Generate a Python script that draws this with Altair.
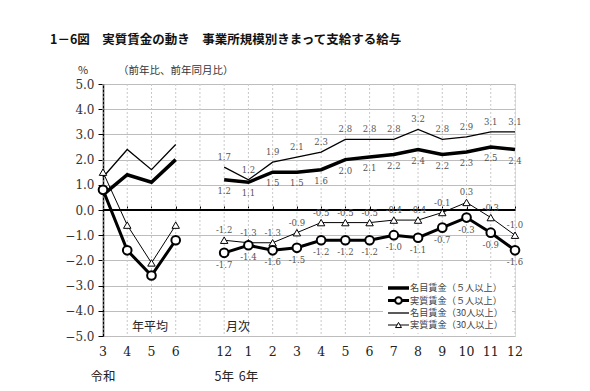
import altair as alt
import pandas as pd

# ---- data ----
x_labels = ['3', '4', '5', '6', '', '12', '1', '2', '3', '4', '5', '6', '7', '8', '9', '10', '11', '12']
annual_pos = [0, 1, 2, 3]
monthly_pos = [5, 6, 7, 8, 9, 10, 11, 12, 13, 14, 15, 16, 17]

nominal5_annual = [0.6, 1.4, 1.1, 2.0]
real5_annual = [0.8, -1.6, -2.6, -1.2]
nominal30_annual = [1.3, 2.4, 1.6, 2.6]
real30_annual = [1.5, -0.6, -2.1, -0.6]

nominal5_monthly = [1.2, 1.1, 1.5, 1.5, 1.6, 2.0, 2.1, 2.2, 2.4, 2.2, 2.3, 2.5, 2.4]
real5_monthly = [-1.7, -1.4, -1.6, -1.5, -1.2, -1.2, -1.2, -1.0, -1.1, -0.7, -0.3, -0.9, -1.6]
nominal30_monthly = [1.7, 1.2, 1.9, 2.1, 2.3, 2.8, 2.8, 2.8, 3.2, 2.8, 2.9, 3.1, 3.1]
real30_monthly = [-1.2, -1.3, -1.3, -0.9, -0.5, -0.5, -0.5, -0.4, -0.4, -0.1, 0.3, -0.3, -1.0]

series_names = ['名目賃金（５人以上）', '実質賃金（５人以上）', '名目賃金（30人以上）', '実質賃金（30人以上）']
annual_vals = [nominal5_annual, real5_annual, nominal30_annual, real30_annual]
monthly_vals = [nominal5_monthly, real5_monthly, nominal30_monthly, real30_monthly]

rows = []
for name, av, mv in zip(series_names, annual_vals, monthly_vals):
    for p, v in zip(annual_pos, av):
        rows.append({'pos': p, 'value': v, 'series': name, 'seg': 'annual'})
    for p, v in zip(monthly_pos, mv):
        rows.append({'pos': p, 'value': v, 'series': name, 'seg': 'monthly'})
df = pd.DataFrame(rows)
df['label'] = df['value'].map(lambda v: f"{v:.1f}")

grid_df = pd.DataFrame({'pos': list(range(18))})
xlab_df = pd.DataFrame({'pos': [i for i, l in enumerate(x_labels) if l], 'text': [l for l in x_labels if l]})
zero_df = pd.DataFrame({'v': [0]})

W, H = 412, 252
xs = alt.Scale(domain=[0, 17], nice=False, zero=False)
ys = alt.Scale(domain=[-5, 5], nice=False)
NUMFONT = 'DejaVu Serif'
JPFONT = 'Noto Sans CJK JP'

x_axis = alt.Axis(orient='top', offset=-126, values=list(range(18)),
                  labels=False, grid=False, domain=False, ticks=True,
                  tickSize=4, tickColor='black', title=None)
y_axis = alt.Axis(values=list(range(-5, 6)), format='.1f', grid=True, tickCount=11,
                  gridColor='#bdbdbd', domainColor='black', domainWidth=1.5,
                  tickColor='black', tickSize=5, labelFont=NUMFONT,
                  labelFontSize=12, labelColor='#333', labelPadding=4,
                  labelOverlap=False, labelBound=False, labelFlush=False,
                  title=None)

base = alt.Chart(df)

def sel(name):
    return base.transform_filter(alt.datum.series == name)

X = alt.X('pos:Q', scale=xs, axis=x_axis)
Y = alt.Y('value:Q', scale=ys, axis=y_axis)

vgrid = alt.Chart(grid_df).mark_rule(color='#c8c8c8', strokeDash=[2, 2], strokeWidth=1).encode(
    x=alt.X('pos:Q', scale=xs, axis=x_axis))
zero = alt.Chart(zero_df).mark_rule(color='black', strokeWidth=2).encode(
    y=alt.Y('v:Q', scale=ys, axis=y_axis))

l_nom5 = sel(series_names[0]).mark_line(color='black', strokeWidth=3.5).encode(x=X, y=Y, detail='seg:N')
l_real5 = sel(series_names[1]).mark_line(color='black', strokeWidth=3).encode(x=X, y=Y, detail='seg:N')
l_nom30 = sel(series_names[2]).mark_line(color='black', strokeWidth=1.3).encode(x=X, y=Y, detail='seg:N')
l_real30 = sel(series_names[3]).mark_line(color='black', strokeWidth=1).encode(x=X, y=Y, detail='seg:N')

p_real5 = sel(series_names[1]).mark_point(shape='circle', filled=True, fill='white', stroke='black',
                                          strokeWidth=2, size=75, opacity=1).encode(x=X, y=Y)
p_real30 = sel(series_names[3]).mark_point(shape='triangle-up', filled=True, fill='white', stroke='black',
                                           strokeWidth=1, size=55, opacity=1).encode(x=X, y=Y)

def labels(name, dy):
    return sel(name).transform_filter(alt.datum.seg == 'monthly').mark_text(
        font=NUMFONT, fontSize=8.5, color='#555', dy=dy).encode(x=X, y=Y, text='label:N')

t_nom5 = labels(series_names[0], 11)
t_real5 = labels(series_names[1], 12)
t_nom30 = labels(series_names[2], -10)
t_real30 = labels(series_names[3], -10)

xlab = alt.Chart(xlab_df).mark_text(font=NUMFONT, fontSize=12.5, color='#222').encode(
    x=alt.X('pos:Q', scale=xs, axis=x_axis), y=alt.value(268), text='text:N')

def txt(s, x, y, size=12, align='center', font=JPFONT, weight='normal', color='#222'):
    return alt.Chart(zero_df).mark_text(text=s, font=font, fontSize=size, align=align,
                                        fontWeight=weight, color=color, baseline='middle').encode(
        x=alt.value(x), y=alt.value(y))

era = alt.Chart(pd.DataFrame({'pos': [0, 5, 6], 'text': ['令和', '5年', '6年']})).mark_text(
    font=JPFONT, fontSize=12.5, color='#222').encode(
    x=alt.X('pos:Q', scale=xs, axis=x_axis), y=alt.value(293), text='text:N')

title = txt('1－6図　実質賃金の動き　事業所規模別きまって支給する給与', -53, -44, size=12.5, align='left', weight='bold', color='#111')
pct = txt('%', -20, -13, size=11, color='#333')
unit = txt('（前年比、前年同月比）', 15, -13, size=10.5, align='left', color='#333')
nenheikin = txt('年平均', 47, 243, size=12)
getsuji = txt('月次', 135, 243, size=12)

# legend
leg_box = alt.Chart(zero_df).mark_rect(fill='white', stroke=None).encode(
    x=alt.value(280), x2=alt.value(409), y=alt.value(195), y2=alt.value(249))
rows_y = [204, 216.5, 229, 241]
widths = [3.5, 3, 1.3, 1]
leg_layers = [leg_box]
for name, ry, w in zip(series_names, rows_y, widths):
    leg_layers.append(alt.Chart(zero_df).mark_rule(color='black', strokeWidth=w).encode(
        x=alt.value(285), x2=alt.value(306), y=alt.value(ry)))
    leg_layers.append(txt(name, 307, ry, size=9.2, align='left', color='#444'))
leg_layers.append(alt.Chart(zero_df).mark_point(shape='circle', filled=True, fill='white', stroke='black',
                                                strokeWidth=2, size=45, opacity=1).encode(
    x=alt.value(295.5), y=alt.value(rows_y[1])))
leg_layers.append(alt.Chart(zero_df).mark_point(shape='triangle-up', filled=True, fill='white', stroke='black',
                                                strokeWidth=1, size=35, opacity=1).encode(
    x=alt.value(295.5), y=alt.value(rows_y[3])))

chart = alt.layer(
    vgrid, zero,
    l_nom30, l_real30, l_nom5, l_real5,
    p_real30, p_real5,
    t_nom5, t_real5, t_nom30, t_real30,
    xlab, era, title, pct, unit, nenheikin, getsuji,
    *leg_layers
).properties(
    width=W, height=H, autosize='none',
    padding={'left': 95, 'top': 76, 'right': 60, 'bottom': 53}
).configure_view(stroke=None).configure(background='white')

chart.save('out.html', embed_options={'renderer': 'svg', 'actions': False})
